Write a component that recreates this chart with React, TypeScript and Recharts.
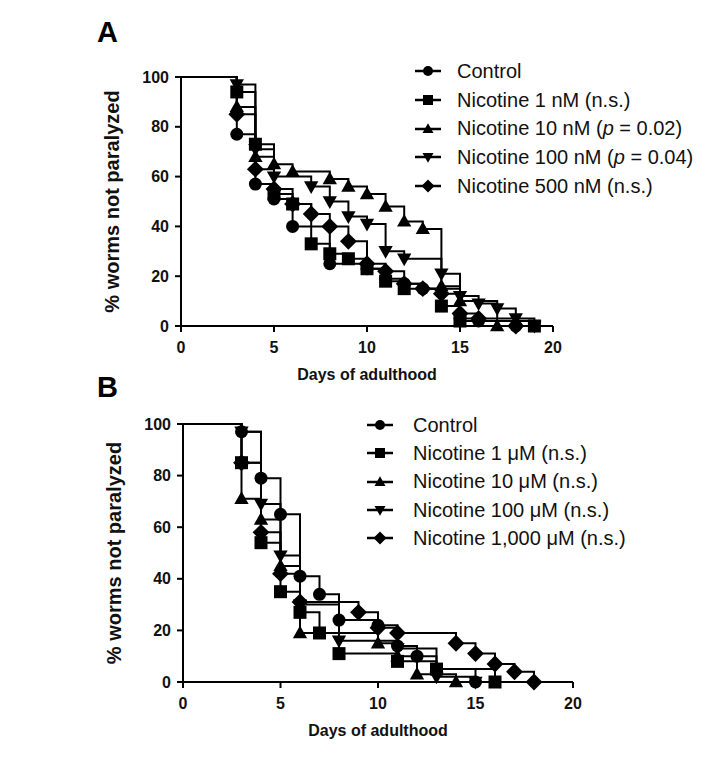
import React from 'react';
import { LineChart, Line, XAxis, YAxis, Legend } from 'recharts';

// survival curves, [day, % not paralyzed] at each event
const controlA = [[3, 77], [4, 57], [5, 51], [6, 40], [8, 25], [10, 23], [11, 19], [12, 17], [13, 15], [15, 3], [16, 2], [18, 0]];
const nic1nM = [[3, 94], [4, 73], [5, 53], [6, 49], [7, 33], [8, 29], [9, 27], [10, 23], [11, 18], [12, 15], [14, 8], [15, 2], [19, 0]];
const nic10nM = [[3, 88], [4, 68], [5, 65], [6, 62], [8, 59], [9, 56], [10, 53], [11, 48], [12, 42], [13, 39], [14, 16], [15, 10], [17, 0]];
const nic100nM = [[3, 97], [4, 71], [5, 60], [7, 56], [8, 50], [9, 44], [10, 41], [11, 30], [12, 27], [14, 21], [15, 12], [16, 9], [17, 7], [18, 3], [19, 0]];
const nic500nM = [[3, 85], [4, 63], [5, 55], [6, 49], [7, 45], [8, 40], [9, 34], [10, 25], [11, 22], [12, 17], [13, 15], [14, 13], [15, 5], [16, 3], [18, 0]];

const controlB = [[3, 97], [4, 79], [5, 65], [6, 41], [7, 34], [8, 24], [10, 22], [11, 14], [12, 10], [13, 5], [15, 0]];
const nic1uM = [[3, 85], [4, 54], [5, 35], [6, 27], [7, 19], [8, 11], [11, 8], [13, 5], [16, 0]];
const nic10uM = [[3, 71], [4, 63], [5, 45], [6, 19], [10, 15], [11, 10], [12, 3], [14, 0]];
const nic100uM = [[3, 97], [4, 69], [5, 49], [6, 30], [8, 16], [11, 13], [13, 2], [15, 0]];
const nic1000uM = [[3, 85], [4, 58], [5, 42], [6, 31], [9, 27], [10, 21], [11, 19], [14, 15], [15, 11], [16, 7], [17, 4], [18, 0]];

const namesA = ['Control', 'Nicotine 1 nM (n.s.)', 'Nicotine 10 nM (p = 0.02)', 'Nicotine 100 nM (p = 0.04)', 'Nicotine 500 nM (n.s.)'];
const namesB = ['Control', 'Nicotine 1 \u03bcM (n.s.)', 'Nicotine 10 \u03bcM (n.s.)', 'Nicotine 100 \u03bcM (n.s.)', 'Nicotine 1,000 \u03bcM (n.s.)'];
const shapes = ['circle', 'square', 'triangle', 'triangleDown', 'diamond'];

const xTicks = [0, 5, 10, 15, 20];
const yTicks = [0, 20, 40, 60, 80, 100];

const FONT = '"Liberation Sans", Arial, sans-serif';

const toRows = (pairs: number[][]) => [{ day: 0, pct: 100 }, ...pairs.map(([day, pct]) => ({ day, pct }))];

function Marker({ shape, cx, cy, size }: { shape: string; cx: number; cy: number; size: number }) {
  const h = size / 2;
  if (shape === 'circle') return <circle cx={cx} cy={cy} r={h} fill="#000" />;
  if (shape === 'square') return <rect x={cx - h} y={cy - h} width={size} height={size} fill="#000" />;
  if (shape === 'triangle')
    return <polygon points={`${cx},${cy - h * 1.15} ${cx + h * 1.1},${cy + h * 0.8} ${cx - h * 1.1},${cy + h * 0.8}`} fill="#000" />;
  if (shape === 'triangleDown')
    return <polygon points={`${cx},${cy + h * 1.15} ${cx + h * 1.1},${cy - h * 0.8} ${cx - h * 1.1},${cy - h * 0.8}`} fill="#000" />;
  const d = h * 1.3;
  return <polygon points={`${cx},${cy - d} ${cx + d},${cy} ${cx},${cy + d} ${cx - d},${cy}`} fill="#000" />;
}

const makeDot = (shape: string) => (props: any) => {
  const { cx, cy, index } = props;
  if (index === 0 || cx == null || cy == null) return <g key={`d${index}`} />;
  return <Marker key={`d${index}`} shape={shape} cx={cx} cy={cy} size={13} />;
};

function LegendLabel({ text }: { text: string }) {
  const i = text.indexOf('(p ');
  if (i < 0) return <>{text}</>;
  return (
    <>
      {text.slice(0, i + 1)}
      <i>p</i>
      {text.slice(i + 2)}
    </>
  );
}

function LegendBox({ names, gap, rowH }: { names: string[]; gap: number; rowH: number }) {
  return (
    <div style={{ fontFamily: FONT, fontSize: 20, color: '#111' }}>
      {names.map((n, i) => (
        <div key={n} style={{ display: 'flex', alignItems: 'center', height: rowH, whiteSpace: 'nowrap' }}>
          <svg width={30} height={20} style={{ flex: 'none' }}>
            <line x1={2} y1={10} x2={28} y2={10} stroke="#000" strokeWidth={2.5} />
            <Marker shape={shapes[i]} cx={15} cy={10} size={10} />
          </svg>
          <span style={{ marginLeft: gap }}>
            <LegendLabel text={n} />
          </span>
        </div>
      ))}
    </div>
  );
}

const tickStyle = { fontSize: 16, fontWeight: 700, fontFamily: FONT, fill: '#111' };
const titleStyle = { fontSize: 16, fontWeight: 700, fontFamily: FONT, fill: '#111' };

function SurvivalPanel({
  top, height, margin, series, names, legendPos, gap, rowH,
}: {
  top: number; height: number; margin: any; series: number[][][]; names: string[];
  legendPos: { top: number; left: number }; gap: number; rowH: number;
}) {
  return (
    <div style={{ position: 'absolute', left: 0, top }}>
      <LineChart width={720} height={height} margin={margin}>
        <XAxis
          dataKey="day"
          type="number"
          domain={[0, 20]}
          ticks={xTicks}
          allowDuplicatedCategory={false}
          height={30}
          stroke="#000"
          strokeWidth={2}
          tickSize={6}
          tickMargin={10}
          tick={tickStyle}
          label={{ value: 'Days of adulthood', position: 'bottom', offset: 13, style: titleStyle }}
        />
        <YAxis
          type="number"
          domain={[0, 100]}
          ticks={yTicks}
          width={60}
          stroke="#000"
          strokeWidth={2}
          tickSize={6}
          tickMargin={6}
          tick={tickStyle}
          label={{ value: '% worms not paralyzed', angle: -90, position: 'left', offset: 9, style: { ...titleStyle, fontSize: 20, textAnchor: 'middle' } }}
        />
        <Legend
          layout="vertical"
          align="center"
          verticalAlign="middle"
          wrapperStyle={{ top: legendPos.top, left: legendPos.left, width: 320 }}
          content={() => <LegendBox names={names} gap={gap} rowH={rowH} />}
        />
        {series.map((s, i) => (
          <Line
            key={names[i]}
            name={names[i]}
            data={toRows(s)}
            dataKey="pct"
            type="stepAfter"
            stroke="#000"
            strokeWidth={2}
            dot={makeDot(shapes[i])}
            activeDot={false}
            isAnimationActive={false}
          />
        ))}
      </LineChart>
    </div>
  );
}

export default function App() {
  return (
    <div style={{ position: 'absolute', left: 0, top: 0, width: 720, height: 778, background: '#fff', overflow: 'hidden' }}>
      <div style={{ position: 'absolute', left: 97, top: 18, fontFamily: FONT, fontWeight: 700, fontSize: 29, lineHeight: '29px' }}>A</div>
      <div style={{ position: 'absolute', left: 97, top: 373, fontFamily: FONT, fontWeight: 700, fontSize: 29, lineHeight: '29px' }}>B</div>
      <SurvivalPanel
        top={0}
        height={395}
        margin={{ top: 77, right: 167, left: 121, bottom: 39 }}
        series={[controlA, nic1nM, nic10nM, nic100nM, nic500nM]}
        names={namesA}
        legendPos={{ top: 57, left: 413 }}
        gap={14}
        rowH={28.7}
      />
      <SurvivalPanel
        top={370}
        height={400}
        margin={{ top: 54, right: 147, left: 123, bottom: 58 }}
        series={[controlB, nic1uM, nic10uM, nic100uM, nic1000uM]}
        names={namesB}
        legendPos={{ top: 41, left: 365 }}
        gap={18}
        rowH={28.3}
      />
    </div>
  );
}
